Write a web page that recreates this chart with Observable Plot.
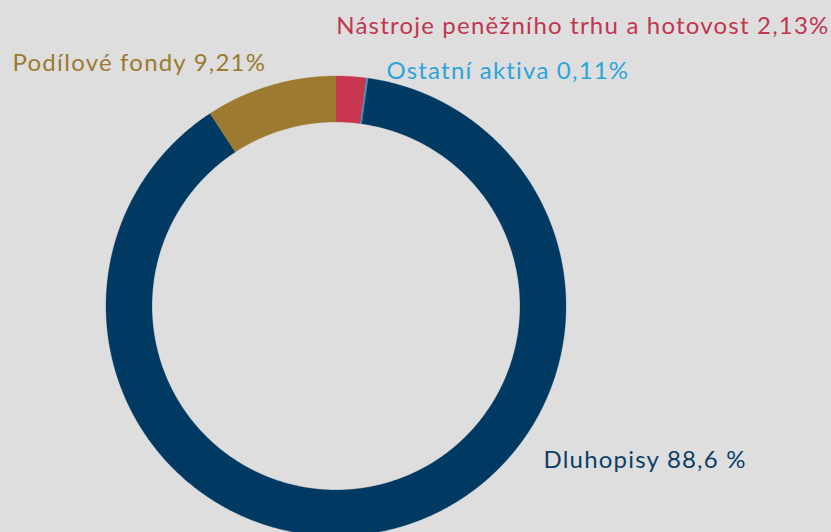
<!DOCTYPE html>
<html><head><meta charset="utf-8">
<script src="https://cdn.jsdelivr.net/npm/d3@7"></script>
<script src="https://cdn.jsdelivr.net/npm/@observablehq/plot@0.6"></script>
<style>
html,body{margin:0;padding:0;background:#dedede;overflow:hidden}
svg{display:block}
</style></head><body><div id="chart"></div>
<script>
const categories = ["Nástroje peněžního trhu a hotovost", "Ostatní aktiva", "Dluhopisy", "Podílové fondy"];
const values = [2.13, 0.11, 88.6, 9.21];
const labels = ["Nástroje peněžního trhu a hotovost 2,13%", "Ostatní aktiva 0,11%", "Dluhopisy 88,6 %", "Podílové fondy 9,21%"];
const colors = ["#c8364f", "#2ba4dc", "#003a63", "#9c7a2f"];
const textColors = ["#c0364f", "#2ba4dc", "#0d3f66", "#9c7a2f"];

// layout (pixels)
const W = 831, H = 532, cx = 336, cy = 306, R = 230, r0 = 184;
const labelLayout = [
  {px: 829, py: 33, anchor: "end"},
  {px: 386, py: 78, anchor: "start"},
  {px: 543, py: 467, anchor: "start"},
  {px: 12, py: 70, anchor: "start"}
];

const pie = d3.pie().sort(null).value(d => d.value)(categories.map((c, i) => ({name: c, value: values[i], color: colors[i]})));
const inner = r0 / R;
const rows = [];
for (const s of pie) {
  const n = Math.max(2, Math.ceil((s.endAngle - s.startAngle) / 0.005));
  for (let k = 0; k <= n; k++) {
    const a = s.startAngle + (s.endAngle - s.startAngle) * k / n;
    rows.push({name: s.data.name, color: s.data.color,
      x1: Math.sin(a), y1: Math.cos(a), x2: inner * Math.sin(a), y2: inner * Math.cos(a)});
  }
}
const labelData = labels.map((t, i) => ({text: t, color: textColors[i],
  x: (labelLayout[i].px - cx) / R, y: (cy - labelLayout[i].py) / R, anchor: labelLayout[i].anchor}));

const chart = Plot.plot({
  width: W, height: H, margin: 0,
  style: {background: "#dedede", fontFamily: "Lato, 'Open Sans', sans-serif", letterSpacing: "1.2px"},
  x: {domain: [-cx / R, (W - cx) / R], axis: null},
  y: {domain: [-(H - cy) / R, cy / R], axis: null},
  marks: [
    Plot.area(rows, {x1: "x1", y1: "y1", x2: "x2", y2: "y2", z: "name", fill: "color", stroke: "color", strokeWidth: 0.3}),
    Plot.text(labelData.filter(d => d.anchor === "start"), {x: "x", y: "y", text: "text", fill: "color", textAnchor: "start", lineAnchor: "bottom", fontSize: 24, fontWeight: 400}),
    Plot.text(labelData.filter(d => d.anchor === "end"), {x: "x", y: "y", text: "text", fill: "color", textAnchor: "end", lineAnchor: "bottom", fontSize: 24, fontWeight: 400})
  ]
});
document.getElementById("chart").append(chart);
</script></body></html>
